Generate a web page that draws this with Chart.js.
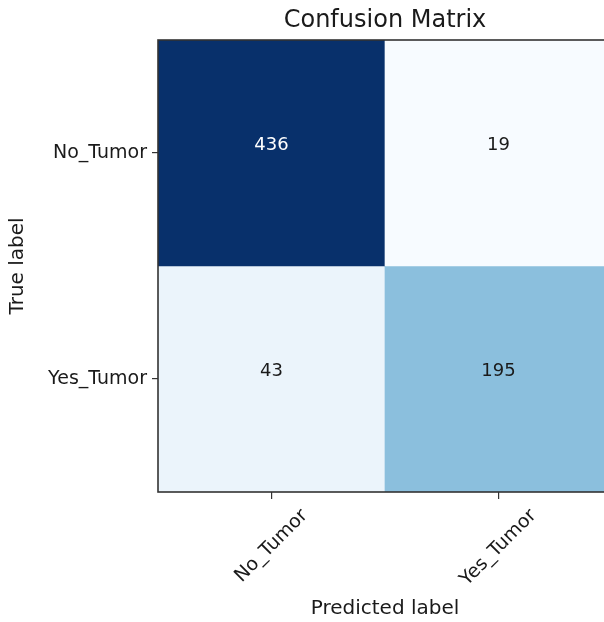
<!DOCTYPE html>
<html>
<head>
<meta charset="utf-8">
<script src="https://cdn.jsdelivr.net/npm/chart.js@4.4.0/dist/chart.umd.min.js"></script>
<style>
  html, body { margin: 0; padding: 0; background: #fff; overflow: hidden; }
  #wrap { width: 612px; height: 622px; }
</style>
</head>
<body>
<div id="wrap"><canvas id="cm" width="612" height="622"></canvas></div>
<script>
// confusion matrix: rows = true label, columns = predicted label
const trueLabels = ["No_Tumor", "Yes_Tumor"];
const predLabels = ["No_Tumor", "Yes_Tumor"];
const rowNoTumor = [436, 19];
const rowYesTumor = [43, 195];
const matrix = [rowNoTumor, rowYesTumor];

// matplotlib "Blues" stops
const bluesStops = ["#f7fbff","#deebf7","#c6dbef","#9ecae1","#6baed6","#4292c6","#2171b5","#08519c","#08306b"];
const FONT = "'DejaVu Sans', 'Liberation Sans', sans-serif";
const TXT = "#1a1a1a";

const allVals = matrix.flat();
const vMin = Math.min(...allVals), vMax = Math.max(...allVals);

function hexToRgb(h){
  return [parseInt(h.slice(1,3),16), parseInt(h.slice(3,5),16), parseInt(h.slice(5,7),16)];
}
function blues(v){
  let t = (v - vMin) / (vMax - vMin);
  let p = t * (bluesStops.length - 1);
  let i = Math.min(Math.floor(p), bluesStops.length - 2);
  let f = p - i;
  let a = hexToRgb(bluesStops[i]), b = hexToRgb(bluesStops[i+1]);
  let c = a.map((x, k) => Math.round(x + (b[k] - x) * f));
  return "rgb(" + c.join(",") + ")";
}

// one floating-bar dataset per row, each bar spans one cell
let datasets = [];
for (let r = 0; r < matrix.length; r++){
  datasets.push({
    label: trueLabels[r],
    data: matrix[r].map(() => [r - 0.5, r + 0.5]),
    backgroundColor: matrix[r].map(v => blues(v)),
    borderWidth: 0,
    barPercentage: 1,
    categoryPercentage: 1,
    grouped: false
  });
}

const cellPlugin = {
  id: 'cellPlugin',
  afterDraw(chart){
    const ctx = chart.ctx;
    const xs = chart.scales.x, ys = chart.scales.y;
    const a = chart.chartArea;
    ctx.save();
    // axes frame
    ctx.strokeStyle = "#333";
    ctx.lineWidth = 1.6;
    ctx.strokeRect(a.left, a.top, a.right - a.left, a.bottom - a.top);

    // cell counts
    ctx.font = "18px " + FONT;
    ctx.textAlign = "center";
    ctx.textBaseline = "middle";
    for (let r = 0; r < matrix.length; r++){
      for (let c = 0; c < matrix[r].length; c++){
        let v = matrix[r][c];
        ctx.fillStyle = v > (vMax + vMin) / 2 ? "#ffffff" : TXT;
        ctx.fillText(String(v), xs.getPixelForValue(c), ys.getPixelForValue(r) - 8);
      }
    }

    // rotated predicted-label ticks, centred under each tick
    ctx.font = "19px " + FONT;
    ctx.fillStyle = TXT;
    for (let c = 0; c < predLabels.length; c++){
      let w = ctx.measureText(predLabels[c]).width;
      let x = xs.getPixelForValue(c);
      let y = a.bottom + 14 + (w + 19) * 0.3536;
      ctx.save();
      ctx.translate(x, y);
      ctx.rotate(-Math.PI / 4);
      ctx.fillText(predLabels[c], 0, 0);
      ctx.restore();
    }
    ctx.restore();
  }
};

new Chart(document.getElementById("cm"), {
  type: 'bar',
  data: { labels: predLabels, datasets: datasets },
  options: {
    responsive: false,
    animation: false,
    devicePixelRatio: 1,
    layout: { padding: 0 },
    plugins: {
      legend: { display: false },
      tooltip: { enabled: false },
      title: {
        display: true,
        text: "Confusion Matrix",
        fullSize: false,
        color: TXT,
        font: { family: FONT, size: 24, weight: 'normal', lineHeight: 1.2 },
        padding: { top: 6, bottom: 5.2 }
      }
    },
    scales: {
      x: {
        type: 'category',
        offset: true,
        grid: { display: true, offset: false, drawOnChartArea: false, drawTicks: true, tickLength: 7, color: "#333", lineWidth: 1.2 },
        border: { display: false },
        ticks: { display: false },
        title: { display: true, text: "Predicted label", color: TXT, font: { family: FONT, size: 20 }, padding: { top: 0, bottom: 1 } },
        afterFit(scale){ scale.height = 130; }
      },
      y: {
        type: 'linear',
        min: -0.5,
        max: 1.5,
        reverse: true,
        grid: { display: true, drawOnChartArea: false, drawTicks: true, tickLength: 6, color: "#333", lineWidth: 1.2 },
        border: { display: false },
        afterBuildTicks(scale){ scale.ticks = trueLabels.map((l, i) => ({ value: i })); },
        ticks: {
          color: TXT,
          padding: 5,
          font: { family: FONT, size: 19 },
          callback: (v) => trueLabels[v]
        },
        title: { display: true, text: "True label", color: TXT, font: { family: FONT, size: 20 }, padding: { top: 6, bottom: 0 } },
        afterFit(scale){ scale.width = 158; }
      }
    }
  },
  plugins: [cellPlugin]
});
</script>
</body>
</html>
